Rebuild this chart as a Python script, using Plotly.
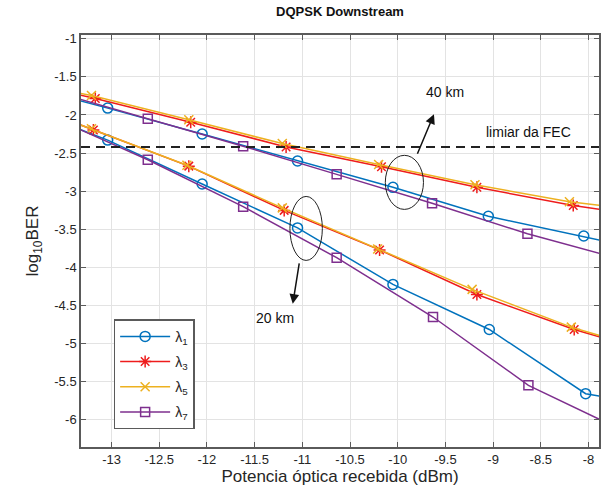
import plotly.graph_objects as go

# ---------------- data (log10 BER vs received optical power, dBm) ----------------
# 40 km
x_l1_40 = [-14.04, -13.04, -12.05, -11.05, -10.05, -9.05, -8.05, -7.05]
y_l1_40 = [-1.58, -1.91, -2.25, -2.605, -2.95, -3.33, -3.59, -3.87]
x_l3_40 = [-14.17, -13.17, -12.17, -11.17, -10.17, -9.17, -8.16, -7.16]
y_l3_40 = [-1.50, -1.785, -2.095, -2.42, -2.68, -2.95, -3.19, -3.37]
x_l5_40 = [-14.21, -13.21, -12.19, -11.21, -10.20, -9.19, -8.20, -7.20]
y_l5_40 = [-1.49, -1.745, -2.064, -2.375, -2.65, -2.916, -3.14, -3.29]
x_l7_40 = [-13.62, -12.62, -11.62, -10.64, -9.64, -8.64, -7.64]
y_l7_40 = [-1.69, -2.05, -2.41, -2.78, -3.16, -3.56, -3.90]
# 20 km
x_l1_20 = [-14.04, -13.04, -12.05, -11.05, -10.05, -9.04, -8.03, -7.03]
y_l1_20 = [-1.85, -2.33, -2.907, -3.483, -4.225, -4.817, -5.66, -5.88]
x_l3_20 = [-14.19, -13.19, -12.19, -11.19, -10.19, -9.17, -8.15, -7.15]
y_l3_20 = [-1.72, -2.197, -2.672, -3.253, -3.772, -4.358, -4.817, -5.18]
x_l5_20 = [-14.21, -13.21, -12.21, -11.21, -10.21, -9.22, -8.18, -7.18]
y_l5_20 = [-1.71, -2.18, -2.66, -3.22, -3.76, -4.29, -4.786, -5.16]
x_l7_20 = [-13.62, -12.62, -11.62, -10.64, -9.63, -8.63, -7.63]
y_l7_20 = [-2.03, -2.588, -3.204, -3.874, -4.653, -5.55, -6.15]

fec_threshold = -2.42
x_range = [-13.32, -7.89]
y_range = [-6.36, -0.95]
x_ticks = [-13, -12.5, -12, -11.5, -11, -10.5, -10, -9.5, -9, -8.5, -8]
y_ticks = [-1, -1.5, -2, -2.5, -3, -3.5, -4, -4.5, -5, -5.5, -6]

names = ["λ<sub>1</sub>", "λ<sub>3</sub>", "λ<sub>5</sub>", "λ<sub>7</sub>"]
colors = ["#0072BD", "#EE1C1C", "#EDB120", "#7E2F8E"]
symbols = ["circle-open", "asterisk-open", "x-thin-open", "square-open"]
sizes = [10, 10, 9, 9]

series20 = [(x_l1_20, y_l1_20), (x_l3_20, y_l3_20), (x_l5_20, y_l5_20), (x_l7_20, y_l7_20)]
series40 = [(x_l1_40, y_l1_40), (x_l3_40, y_l3_40), (x_l5_40, y_l5_40), (x_l7_40, y_l7_40)]

FONT = "Liberation Sans, Arial, Helvetica, sans-serif"

fig = go.Figure()
for i in range(4):
    for (xs, ys), show in ((series20[i], True), (series40[i], False)):
        fig.add_trace(go.Scatter(
            x=xs, y=ys, mode="lines+markers", name=names[i],
            legendgroup=names[i], showlegend=show,
            line=dict(color=colors[i], width=1.5),
            marker=dict(symbol=symbols[i], size=sizes[i], color=colors[i],
                        line=dict(color=colors[i], width=1.5)),
        ))

# FEC threshold
fig.add_shape(type="line", xref="x domain", yref="y", x0=0, x1=1,
              y0=fec_threshold, y1=fec_threshold,
              line=dict(color="#222", width=2, dash="9px,6px"))

# ellipses
fig.add_shape(type="circle", xref="x", yref="y", x0=-10.13, x1=-9.73, y0=-3.24, y1=-2.53,
              line=dict(color="#222", width=1))
fig.add_shape(type="circle", xref="x", yref="y", x0=-11.13, x1=-10.79, y0=-3.91, y1=-3.07,
              line=dict(color="#222", width=1))

# arrows
fig.add_annotation(x=-9.62, y=-1.99, ax=-9.80, ay=-2.53, xref="x", yref="y", axref="x", ayref="y",
                   text="", showarrow=True, arrowhead=2, arrowsize=1.3, arrowwidth=1.5, arrowcolor="#111")
fig.add_annotation(x=-11.10, y=-4.48, ax=-11.03, ay=-3.93, xref="x", yref="y", axref="x", ayref="y",
                   text="", showarrow=True, arrowhead=2, arrowsize=1.3, arrowwidth=1.5, arrowcolor="#111")

# labels
fig.add_annotation(x=-9.50, y=-1.70, text="40 km", showarrow=False, font=dict(size=14, color="#111", family=FONT))
fig.add_annotation(x=-11.29, y=-4.66, text="20 km", showarrow=False, font=dict(size=14, color="#111", family=FONT))
fig.add_annotation(x=-8.63, y=-2.23, text="limiar da FEC", showarrow=False, font=dict(size=14, color="#111", family=FONT))

axis_common = dict(
    showline=True, linecolor="#5a5a5a", linewidth=1.5, mirror="ticks",
    ticks="inside", ticklen=5, tickcolor="#5a5a5a", tickwidth=1,
    showgrid=True, gridcolor="#e3e3e3", gridwidth=1, zeroline=False,
    tickfont=dict(size=13, color="#262626", family=FONT),
)

fig.update_xaxes(range=x_range, tickmode="array", tickvals=x_ticks,
                 ticktext=[f"{v:g}" for v in x_ticks],
                 title=dict(text="Potencia óptica recebida (dBm)", font=dict(size=17, color="#262626", family=FONT), standoff=4),
                 **axis_common)
fig.update_yaxes(range=y_range, tickmode="array", tickvals=y_ticks,
                 ticktext=[f"{v:g}" for v in y_ticks],
                 title=dict(text="log<sub>10</sub>BER", font=dict(size=17, color="#262626", family=FONT), standoff=11),
                 **axis_common)

fig.update_layout(
    width=607, height=495,
    margin=dict(l=81, r=6, t=35, b=48),
    paper_bgcolor="white", plot_bgcolor="white",
    font=dict(family=FONT, color="#262626"),
    title=dict(text="<b>DQPSK Downstream</b>", x=0.5, xref="paper", y=0.976, yref="container",
               xanchor="center", yanchor="middle", font=dict(size=13, color="#111", family=FONT)),
    legend=dict(x=0.063, y=0.31, xanchor="left", yanchor="top",
                bgcolor="white", bordercolor="#5a5a5a", borderwidth=1.5,
                font=dict(size=14, color="#262626", family=FONT),
                itemwidth=50, tracegroupgap=4),
    showlegend=True,
)

fig.write_html("out.html", config={"displayModeBar": False},
               post_script="document.body.style.margin='0';document.body.style.overflow='hidden';")
